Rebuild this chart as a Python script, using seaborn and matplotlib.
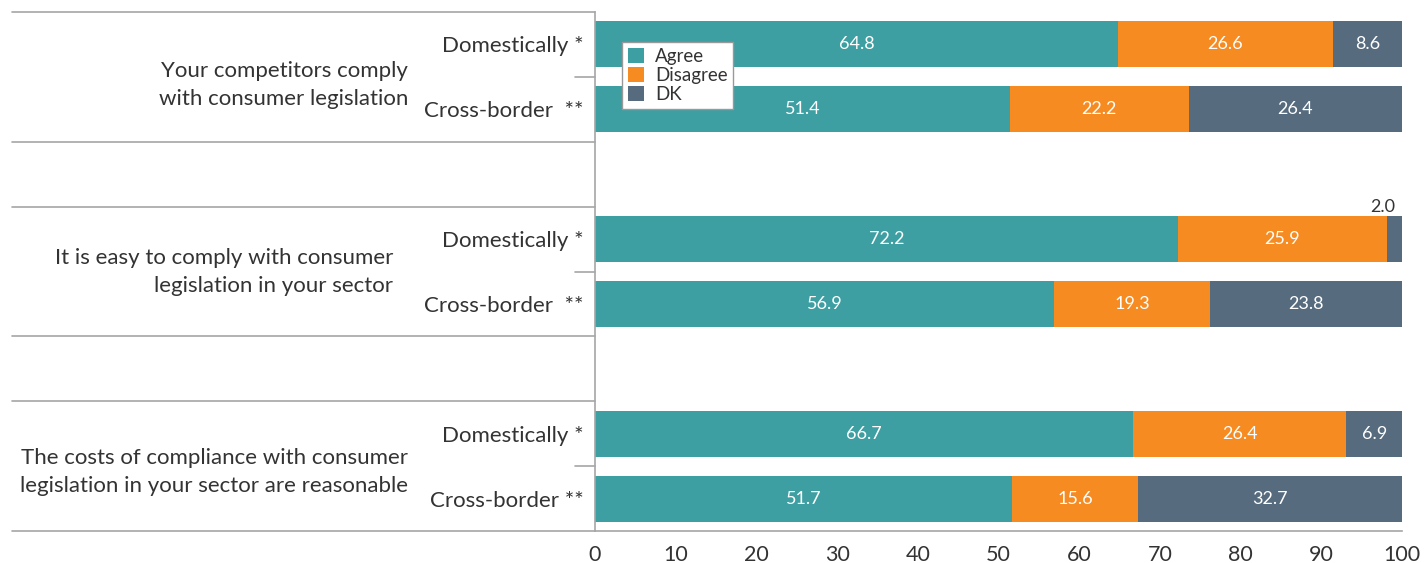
import numpy as np
import pandas as pd
import matplotlib
matplotlib.use("Agg")
import matplotlib.pyplot as plt
import matplotlib.transforms as mtransforms
from matplotlib.patches import Patch
import seaborn as sns

# ---------------- data ----------------
rows = ["Domestically *", "Cross-border  **",
        "Domestically *", "Cross-border  **",
        "Domestically *", "Cross-border **"]
groups = ["Your competitors comply\nwith consumer legislation",
          "It is easy to comply with consumer\nlegislation in your sector",
          "The costs of compliance with consumer\nlegislation in your sector are reasonable"]
agree = [64.8, 51.4, 72.2, 56.9, 66.7, 51.7]
disagree = [26.6, 22.2, 25.9, 19.3, 26.4, 15.6]
dk = [8.6, 26.4, 2.0, 23.8, 6.9, 32.7]
series = ["Agree", "Disagree", "DK"]
xticks = [0, 10, 20, 30, 40, 50, 60, 70, 80, 90, 100]

colors = {"Agree": "#3e9fa3", "Disagree": "#f68b21", "DK": "#566b7e"}
text_col = "#333333"
line_col = "#a6a6a6"

# categorical slots with spacer rows between groups
keys = ["r0", "r1", "s0", "r2", "r3", "s1", "r4", "r5"]
row_keys = ["r0", "r1", "r2", "r3", "r4", "r5"]
df = pd.DataFrame({"key": row_keys, "agree": agree, "disagree": disagree, "dk": dk})
df["c1"] = df["agree"]
df["c2"] = df["agree"] + df["disagree"]
df["c3"] = df["agree"] + df["disagree"] + df["dk"]

sns.set_theme(style="white")
plt.rcParams["font.family"] = ["Lato", "DejaVu Sans"]

fig = plt.figure(figsize=(14.24, 5.63), dpi=100)
ax = fig.add_axes([595 / 1424, 1 - 531 / 563, 807 / 1424, 519 / 563])

bw = 0.71
for col, name in [("c3", "DK"), ("c2", "Disagree"), ("c1", "Agree")]:
    sns.barplot(data=df, x=col, y="key", order=keys, orient="h", color=colors[name],
                width=bw, saturation=1, ax=ax, linewidth=0, errorbar=None)

ax.set_xlim(0, 100)
ax.set_ylim(7.5, -0.5)
ax.set_xlabel("")
ax.set_ylabel("")

# value labels
pos_map = {k: i for i, k in enumerate(keys)}
for _, r in df.iterrows():
    y = pos_map[r["key"]]
    segs = [(0, r["agree"]), (r["agree"], r["disagree"]), (r["agree"] + r["disagree"], r["dk"])]
    for left, w in segs:
        if w >= 4:
            ax.text(left + w / 2, y, f"{w:.1f}", ha="center", va="center",
                    color="white", fontsize=13)
        else:
            ax.text(min(left + w, 100) - 0.8, y - bw / 2 - 0.02, f"{w:.1f}", ha="right",
                    va="bottom", color=text_col, fontsize=13)

# y tick labels
ylabels = []
ri = 0
for k in keys:
    if k.startswith("r"):
        ylabels.append(rows[ri]); ri += 1
    else:
        ylabels.append("")
ax.set_yticks(range(len(keys)))
ax.set_yticklabels(ylabels, fontsize=16, color=text_col)
ax.tick_params(axis="y", length=0, pad=8)

ax.set_xticks(xticks)
ax.set_xticklabels([str(t) for t in xticks], fontsize=15.5, color=text_col)
ax.tick_params(axis="x", direction="in", length=10, width=1, color=line_col, pad=10)

for s in ["top", "right"]:
    ax.spines[s].set_visible(False)
for s in ["left", "bottom"]:
    ax.spines[s].set_color(line_col)
    ax.spines[s].set_linewidth(1.2)

# separator lines extending to the left
trans = mtransforms.blended_transform_factory(ax.transAxes, ax.transData)
x0 = (12 - 595) / 807
for yy in [-0.5, 1.5, 2.5, 4.5, 5.5, 7.5]:
    ax.plot([x0, 0], [yy, yy], color=line_col, lw=1.2, transform=trans, clip_on=False)
for yy in [0.5, 3.5, 6.5]:
    ax.plot([-20 / 807, 0], [yy, yy], color=line_col, lw=1.2, transform=trans, clip_on=False)

# group labels
gy = [0.63, 3.5, 6.59]
gx = [(408 - 595) / 807, (393 - 595) / 807, (408 - 595) / 807]
for g, y, x in zip(groups, gy, gx):
    ax.text(x, y, g, transform=trans, ha="right", va="center", fontsize=16,
            color=text_col, linespacing=1.5)

# legend
handles = [Patch(facecolor=colors[s], edgecolor="none", label=s) for s in series]
leg = ax.legend(handles=handles, loc="upper left", bbox_to_anchor=(27 / 807, 1 - 30 / 519),
                fontsize=13.5, frameon=True, fancybox=False, framealpha=1,
                handlelength=0.85, handleheight=0.85, handletextpad=0.6,
                borderpad=0.3, labelspacing=0.12, borderaxespad=0)
leg.get_frame().set_edgecolor("#999999")
leg.get_frame().set_facecolor("white")
leg.get_frame().set_linewidth(1.0)
for t in leg.get_texts():
    t.set_color(text_col)

fig.savefig("out.png", dpi=100)
